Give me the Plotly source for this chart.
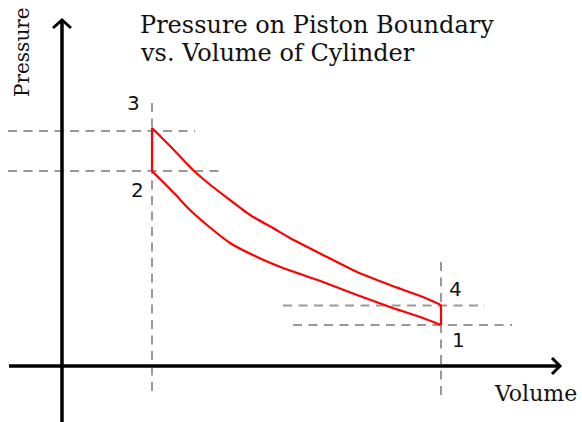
import plotly.graph_objects as go

# ---- data (volume / pressure in arbitrary units, origin at axes crossing) ----
# adiabatic expansion 3 -> 4
top_v = [9.0, 11.0, 13.0, 14.6, 16.8, 18.8, 21.1, 22.8, 26.1, 29.5, 32.8, 36.1, 37.9]
top_p = [23.8, 21.8, 19.7, 18.3, 16.6, 15.1, 13.8, 12.8, 11.1, 9.4, 8.1, 6.9, 6.1]
# adiabatic compression 1 -> 2 (listed from 2 to 1)
bot_v = [9.0, 11.1, 12.8, 14.5, 16.8, 19.5, 22.1, 26.1, 29.5, 32.8, 36.1, 37.9]
bot_p = [19.5, 17.4, 15.6, 14.1, 12.3, 10.9, 9.8, 8.4, 7.1, 5.9, 4.8, 4.1]

state_labels = ["1", "2", "3", "4"]
label_v = [39.6, 7.5, 7.1, 39.3]
label_p = [2.6, 17.6, 26.3, 7.7]

# guide (dashed) lines: [v_start, v_end, p_start, p_end]
guide_v_start = [9.0, 37.9, -5.4, -5.4, 22.1, 23.1]
guide_v_end = [9.0, 37.9, 13.3, 16.1, 42.3, 45.0]
guide_p_start = [26.3, 10.4, 23.5, 19.5, 6.05, 4.1]
guide_p_end = [-3.1, -3.1, 23.5, 19.5, 6.05, 4.1]

# axes: x axis and y axis extents
x_axis_v = [-5.3, 49.8]
y_axis_p = [34.6, -5.6]

title_lines = ["Pressure on Piston Boundary", "vs. Volume of Cylinder"]

RED = "#ff0000"

fig = go.Figure()

# dashed guides
for vs, ve, ps, pe in zip(guide_v_start, guide_v_end, guide_p_start, guide_p_end):
    fig.add_trace(go.Scatter(x=[vs, ve], y=[ps, pe], mode="lines",
                             line=dict(color="#999999", width=2, dash="9px,6.5px"),
                             hoverinfo="skip"))

# axes lines
fig.add_trace(go.Scatter(x=x_axis_v, y=[0, 0], mode="lines",
                         line=dict(color="black", width=3.5), hoverinfo="skip"))
fig.add_trace(go.Scatter(x=[0, 0], y=y_axis_p, mode="lines",
                         line=dict(color="black", width=3.5), hoverinfo="skip"))
# arrowheads (open chevrons)
fig.add_trace(go.Scatter(x=[x_axis_v[1] - 0.8, x_axis_v[1], x_axis_v[1] - 0.8],
                         y=[0.8, 0, -0.8], mode="lines",
                         line=dict(color="black", width=3), hoverinfo="skip"))
fig.add_trace(go.Scatter(x=[-0.9, 0, 0.9],
                         y=[y_axis_p[0] - 0.8, y_axis_p[0], y_axis_p[0] - 0.8], mode="lines",
                         line=dict(color="black", width=3), hoverinfo="skip"))

# cycle curves
fig.add_trace(go.Scatter(x=top_v, y=top_p, mode="lines",
                         line=dict(color=RED, width=2.2, shape="spline", smoothing=0.5),
                         hoverinfo="skip"))
fig.add_trace(go.Scatter(x=bot_v, y=bot_p, mode="lines",
                         line=dict(color=RED, width=2.2, shape="spline", smoothing=0.5),
                         hoverinfo="skip"))
# constant-volume legs 2-3 and 4-1
fig.add_trace(go.Scatter(x=[bot_v[0], top_v[0]], y=[bot_p[0], top_p[0]], mode="lines",
                         line=dict(color=RED, width=2.2), hoverinfo="skip"))
fig.add_trace(go.Scatter(x=[top_v[-1], bot_v[-1]], y=[top_p[-1], bot_p[-1]], mode="lines",
                         line=dict(color=RED, width=2.2), hoverinfo="skip"))

# state labels
for t, v, p in zip(state_labels, label_v, label_p):
    fig.add_annotation(x=v, y=p, text=t, showarrow=False,
                       font=dict(family="DejaVu Sans", size=20, color="#111111"))

# title
fig.add_annotation(x=7.6, y=34.1, text=title_lines[0], showarrow=False, xanchor="left",
                   font=dict(family="DejaVu Serif", size=24, color="#111111"))
fig.add_annotation(x=7.6, y=31.3, text=title_lines[1], showarrow=False, xanchor="left",
                   font=dict(family="DejaVu Serif", size=24, color="#111111"))

# axis titles
fig.add_annotation(x=-4.0, y=31.4, text="Pressure", showarrow=False, textangle=-90,
                   font=dict(family="DejaVu Serif", size=20, color="#111111"))
fig.add_annotation(x=47.3, y=-2.7, text="Volume", showarrow=False,
                   font=dict(family="DejaVu Serif", size=22, color="#111111"))

fig.update_layout(
    width=582, height=422,
    margin=dict(l=0, r=0, t=0, b=0),
    paper_bgcolor="white", plot_bgcolor="white",
    showlegend=False,
    xaxis=dict(range=[-6.2, 52.0], visible=False, fixedrange=True),
    yaxis=dict(range=[-5.6, 36.6], visible=False, fixedrange=True),
)

fig.write_html("out.html",
               config={"displayModeBar": False, "staticPlot": True},
               post_script="document.body.style.margin='0';document.body.style.overflow='hidden';")
